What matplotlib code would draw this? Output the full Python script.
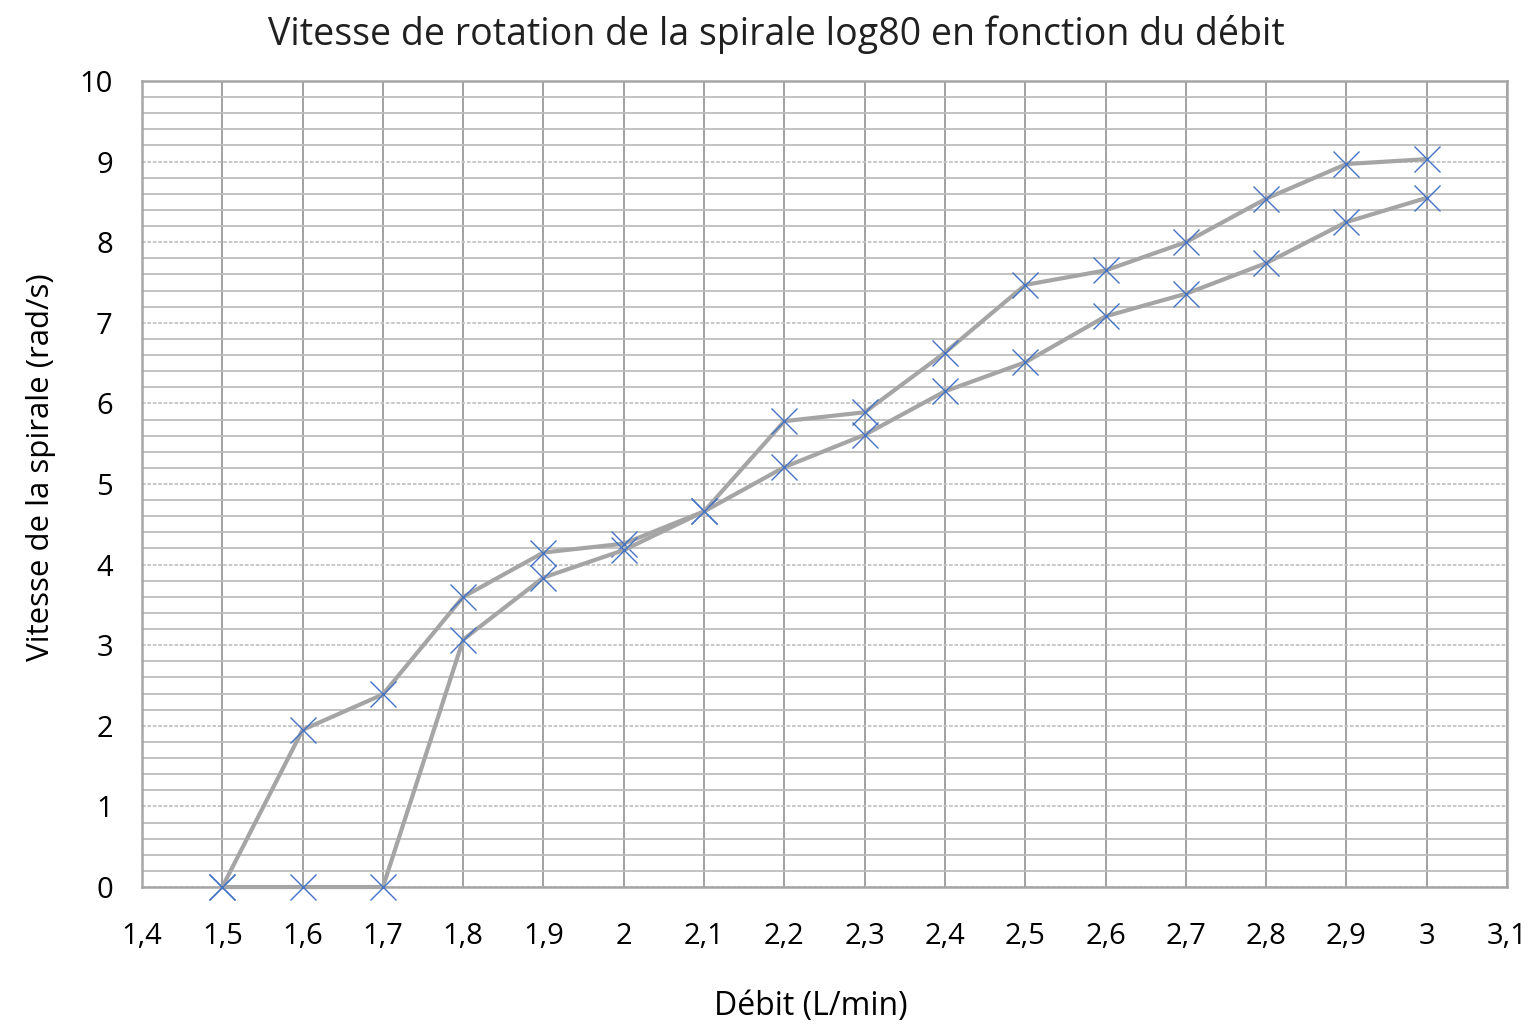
import matplotlib
matplotlib.use("Agg")
import matplotlib.pyplot as plt
from matplotlib.ticker import MultipleLocator

debit = [1.5, 1.6, 1.7, 1.8, 1.9, 2.0, 2.1, 2.2, 2.3, 2.4, 2.5, 2.6, 2.7, 2.8, 2.9, 3.0]
vitesse_a = [0, 1.95, 2.39, 3.60, 4.15, 4.26, 4.66, 5.78, 5.89, 6.63, 7.47, 7.65, 8.00, 8.54, 8.97, 9.03]
vitesse_b = [0, 0, 0, 3.07, 3.84, 4.18, 4.66, 5.21, 5.61, 6.15, 6.51, 7.08, 7.36, 7.74, 8.25, 8.55]

xticks = [1.4, 1.5, 1.6, 1.7, 1.8, 1.9, 2.0, 2.1, 2.2, 2.3, 2.4, 2.5, 2.6, 2.7, 2.8, 2.9, 3.0, 3.1]
xtick_labels = ["1,4", "1,5", "1,6", "1,7", "1,8", "1,9", "2", "2,1", "2,2", "2,3", "2,4",
                "2,5", "2,6", "2,7", "2,8", "2,9", "3", "3,1"]
yticks = list(range(0, 11))

plt.rcParams['font.family'] = ['Open Sans', 'DejaVu Sans']

fig = plt.figure(figsize=(15.37, 10.25), dpi=100)
ax = fig.add_axes([0.0924, 0.1346, 0.9805 - 0.0924, 0.921 - 0.1346])

ax.set_xlim(1.4, 3.1)
ax.set_ylim(0, 10)
ax.set_xticks(xticks)
ax.set_xticklabels(xtick_labels)
ax.set_yticks(yticks)
ax.yaxis.set_minor_locator(MultipleLocator(0.2))

ax.grid(axis='x', which='major', color='#9a9a9a', linewidth=1.3)
ax.grid(axis='y', which='minor', color='#bdbdbd', linewidth=1.3)
ax.grid(axis='y', which='major', color='#c4c4c4', linewidth=1.3, linestyle=(0, (2, 1)))
ax.set_axisbelow(True)

for s in ax.spines.values():
    s.set_color('#a6a6a6')
    s.set_linewidth(1.8)

ax.tick_params(axis='both', which='both', length=0, labelsize=21, colors='#000000')
ax.tick_params(axis='x', pad=25)
ax.tick_params(axis='y', pad=21)

for ys in (vitesse_a, vitesse_b):
    ax.plot(debit, ys, color='#a5a5a5', linewidth=3, marker='x', markersize=18.5,
            markeredgecolor='#4472c4', markeredgewidth=1.0, clip_on=False, zorder=3)

ax.set_title("Vitesse de rotation de la spirale log80 en fonction du débit",
             fontsize=27, pad=26, color='#202020', x=0.465)
ax.set_xlabel("Débit (L/min)", fontsize=23, labelpad=28)
ax.set_ylabel("Vitesse de la spirale (rad/s)", fontsize=22.5, labelpad=17)
ax.xaxis.label.set_x(0.49)
ax.yaxis.label.set_y(0.521)

fig.savefig("out.png", dpi=100)
